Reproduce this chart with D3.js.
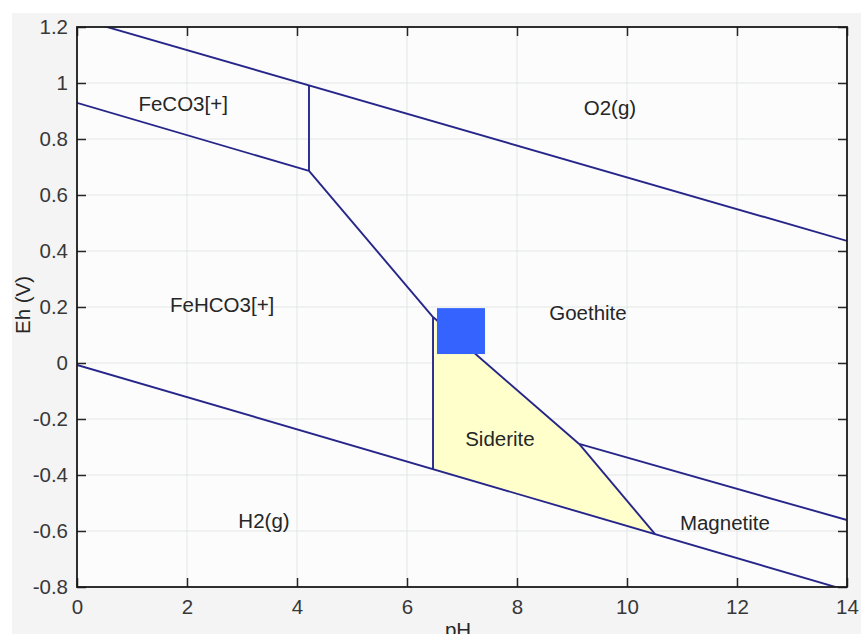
<!DOCTYPE html>
<html>
<head>
<meta charset="utf-8">
<script src="https://cdn.jsdelivr.net/npm/d3@7"></script>
<style>
  html, body { margin: 0; padding: 0; background: #ffffff; }
  svg { display: block; }
  text { font-family: "Liberation Sans", Arial, sans-serif; }
</style>
</head>
<body>
<svg id="chart" width="861" height="634"></svg>
<script>
// ---- data ----
const xTicks = [0, 2, 4, 6, 8, 10, 12, 14];
const yTicks = [-0.8, -0.6, -0.4, -0.2, 0, 0.2, 0.4, 0.6, 0.8, 1, 1.2];
const xLabel = "pH";
const yLabel = "Eh (V)";

// boundary lines [pH, Eh]
const o2Line = [[0, 1.231], [14, 0.436]];
const h2Line = [[0, -0.007], [14, -0.812]];
const feco3Boundary = [[0, 0.929], [4.218, 0.686]];
const feco3Vertical = [[4.218, 0.686], [4.218, 0.991]];
const fehco3Goethite = [[4.218, 0.686], [6.473, 0.164]];
const sideriteVertical = [[6.473, 0.164], [6.473, -0.379]];
const sideriteGoethite = [[6.473, 0.164], [9.13, -0.289]];
const sideriteMagnetite = [[9.13, -0.289], [10.51, -0.611]];
const goethiteMagnetite = [[9.13, -0.289], [14, -0.561]];
const boundaryLines = [o2Line, h2Line, feco3Boundary, feco3Vertical, fehco3Goethite,
  sideriteVertical, sideriteGoethite, sideriteMagnetite, goethiteMagnetite];

// siderite stability field polygon
const sideriteField = [[6.473, 0.164], [9.13, -0.289], [10.51, -0.611], [6.473, -0.379]];

// marker square [pH0, pH1], [Eh0, Eh1]
const markerPH = [6.545, 7.418];
const markerEh = [0.032, 0.196];

// field labels
const fieldNames = ["FeCO3[+]", "O2(g)", "FeHCO3[+]", "Goethite", "Siderite", "H2(g)", "Magnetite"];
const fieldPH = [1.93, 9.69, 2.64, 9.29, 7.69, 3.4, 11.78];
const fieldEh = [0.900, 0.886, 0.182, 0.154, -0.295, -0.588, -0.597];

// ---- layout ----
const svg = d3.select("#chart");
const W = 861, H = 634;
const m = { left: 77, right: 847, top: 27, bottom: 587 };

svg.append("rect").attr("x", 12).attr("y", 13).attr("width", W - 12).attr("height", H - 13)
  .attr("fill", "#f4f4f4");

const x = d3.scaleLinear().domain([0, 14]).range([m.left, m.right]);
const y = d3.scaleLinear().domain([-0.8, 1.2]).range([m.bottom, m.top]);

svg.append("defs").append("clipPath").attr("id", "clip")
  .append("rect").attr("x", m.left).attr("y", m.top)
  .attr("width", m.right - m.left).attr("height", m.bottom - m.top);

svg.append("rect").attr("x", m.left).attr("y", m.top)
  .attr("width", m.right - m.left).attr("height", m.bottom - m.top)
  .attr("fill", "#fcfcfc");

// grid
const grid = svg.append("g");
grid.selectAll(".gx").data(xTicks).join("line")
  .attr("x1", d => x(d)).attr("x2", d => x(d))
  .attr("y1", m.top).attr("y2", m.bottom)
  .attr("stroke", "#e3e6e6").attr("stroke-width", 1);
grid.selectAll(".gy").data(yTicks).join("line")
  .attr("y1", d => y(d)).attr("y2", d => y(d))
  .attr("x1", m.left).attr("x2", m.right)
  .attr("stroke", "#e3e6e6").attr("stroke-width", 1);

const plot = svg.append("g").attr("clip-path", "url(#clip)");

// siderite field
plot.append("path")
  .attr("d", d3.line().x(d => x(d[0])).y(d => y(d[1]))(sideriteField) + "Z")
  .attr("fill", "#ffffcc").attr("stroke", "none");

// boundaries
const line = d3.line().x(d => x(d[0])).y(d => y(d[1]));
plot.selectAll(".bl").data(boundaryLines).join("path")
  .attr("d", d => line(d))
  .attr("fill", "none").attr("stroke", "#26268a").attr("stroke-width", 1.9);

// marker
plot.append("rect")
  .attr("x", x(markerPH[0])).attr("y", y(markerEh[1]))
  .attr("width", x(markerPH[1]) - x(markerPH[0]))
  .attr("height", y(markerEh[0]) - y(markerEh[1]))
  .attr("fill", "#3563fe");

// labels
plot.selectAll(".fl").data(fieldNames).join("text")
  .attr("x", (d, i) => x(fieldPH[i])).attr("y", (d, i) => y(fieldEh[i]))
  .attr("text-anchor", "middle").attr("font-size", 20.5).attr("fill", "#262626")
  .text(d => d);

// axes
const xAxis = d3.axisBottom(x).tickValues(xTicks).tickSize(-9).tickPadding(12)
  .tickFormat(d3.format("d"));
const yAxis = d3.axisLeft(y).tickValues(yTicks).tickSize(-9).tickPadding(9)
  .tickFormat(d => d === 0 ? "0" : (Number.isInteger(d) ? String(d) : d.toFixed(1)));
const xTop = d3.axisTop(x).tickValues(xTicks).tickSize(-9).tickFormat("");
const yRight = d3.axisRight(y).tickValues(yTicks).tickSize(-9).tickFormat("");

function style(g) {
  g.select(".domain").remove();
  g.selectAll(".tick line").attr("stroke", "#262626").attr("stroke-width", 1.5);
  g.selectAll(".tick text").attr("fill", "#383838").attr("font-size", 20.5)
    .attr("font-family", "'Liberation Sans', Arial, sans-serif");
}
svg.append("g").attr("transform", `translate(0,${m.bottom})`).call(xAxis).call(style);
svg.append("g").attr("transform", `translate(${m.left},0)`).call(yAxis).call(style);
svg.append("g").attr("transform", `translate(0,${m.top})`).call(xTop).call(style);
svg.append("g").attr("transform", `translate(${m.right},0)`).call(yRight).call(style);

svg.append("rect").attr("x", m.left).attr("y", m.top)
  .attr("width", m.right - m.left).attr("height", m.bottom - m.top)
  .attr("fill", "none").attr("stroke", "#1a1a1a").attr("stroke-width", 1.8);

// axis titles
svg.append("text").attr("x", 458).attr("y", 637)
  .attr("text-anchor", "middle").attr("font-size", 20.5).attr("fill", "#262626").text(xLabel);
svg.append("text").attr("transform", "translate(30,305) rotate(-90)")
  .attr("text-anchor", "middle").attr("font-size", 20.5).attr("fill", "#262626").text(yLabel);
</script>
</body>
</html>
